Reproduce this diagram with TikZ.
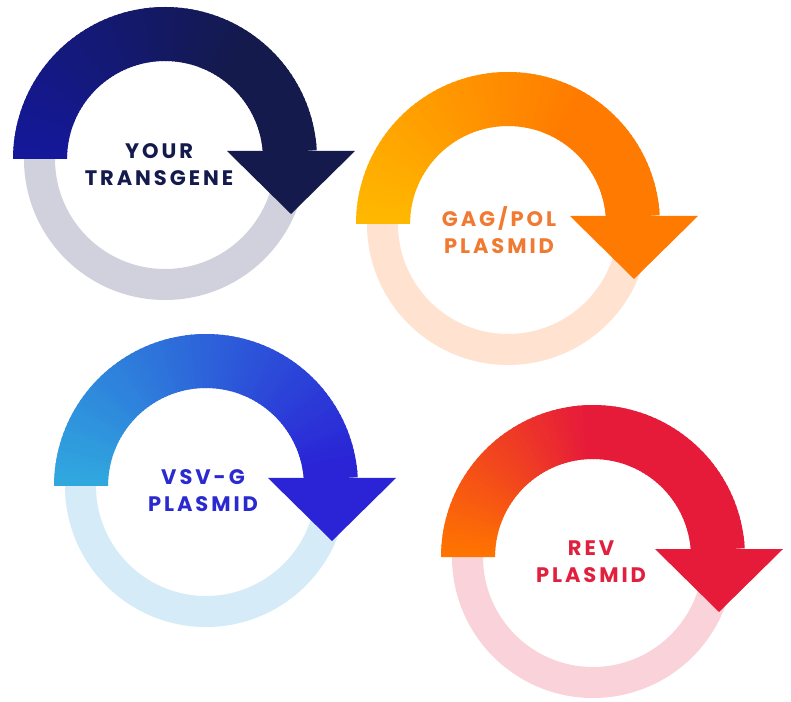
\documentclass[tikz,border=0pt]{standalone}
\usepackage{fontspec}
\setmainfont{Poppins}
\newfontfamily\labfont[LetterSpace=14]{Poppins}
\definecolor{aA}{HTML}{14189A}\definecolor{aB}{HTML}{141A4B}\definecolor{aL}{HTML}{D0D1DD}\definecolor{aT}{HTML}{141A4B}
\definecolor{bA}{HTML}{FFB800}\definecolor{bB}{HTML}{FF7A00}\definecolor{bL}{HTML}{FFE3D0}\definecolor{bT}{HTML}{F07A32}
\definecolor{cA}{HTML}{30A8DE}\definecolor{cB}{HTML}{2A24D6}\definecolor{cL}{HTML}{D5EBF7}\definecolor{cT}{HTML}{2A2AD0}
\definecolor{dA}{HTML}{FF7400}\definecolor{dB}{HTML}{E61B3A}\definecolor{dL}{HTML}{F9D3D9}\definecolor{dT}{HTML}{E0203E}
\tikzset{
  ringline/.style={line width=31pt},
  lab/.style={font=\labfont\bfseries\fontsize{21}{25}\selectfont, inner sep=0pt, anchor=base},
}
% #1 centre, #2 light ring colour, #3 start colour, #4 end colour, #5 angle where the end colour is reached
\newcommand\circarrow[5]{%
  \draw[ringline, #2] (#1) circle[radius=125.5];
  \foreach \anga in {180,178,...,5}{%
    \pgfmathsetmacro\angb{max(3,\anga-2.7)}%
    \pgfmathtruncatemacro\mixp{min(100,max(0,(180-\anga)/(180-#5)*100))}%
    \fill[#4!\mixp!#3]
      ([shift={(\anga:152)}]#1) arc[start angle=\anga, end angle=\angb, radius=152]
      -- ([shift={(\angb:98)}]#1) arc[start angle=\angb, end angle=\anga, radius=98] -- cycle;
  }
  \fill[#4] ([shift={(190,8)}]#1) -- ([shift={(126,-55)}]#1) -- ([shift={(62,8)}]#1) -- cycle;
}
\begin{document}
\begin{tikzpicture}[x=1pt,y=1pt]
\useasboundingbox[fill=white] (0,0) rectangle (791,701);
\coordinate (c1) at (165,542);
\coordinate (c2) at (508,477);
\coordinate (c3) at (206,215);
\coordinate (c4) at (593,144);
\circarrow{c1}{aL}{aA}{aB}{55}
\circarrow{c2}{bL}{bA}{bB}{60}
\circarrow{c3}{cL}{cA}{cB}{12}
\circarrow{c4}{dL}{dA}{dB}{95}
\node[lab, text=aT] (t1a) at (159,542) {YOUR};
\node[lab, text=aT] (t1b) at (159,515) {TRANSGENE};
\node[lab, text=bT] (t2a) at (499,474) {GAG/POL};
\node[lab, text=bT] (t2b) at (499,447) {PLASMID};
\node[lab, text=cT] (t3a) at (203,216) {VSV-G};
\node[lab, text=cT] (t3b) at (203,189) {PLASMID};
\node[lab, text=dT] (t4a) at (591,146) {REV};
\node[lab, text=dT] (t4b) at (591,119) {PLASMID};
\end{tikzpicture}
\end{document}
